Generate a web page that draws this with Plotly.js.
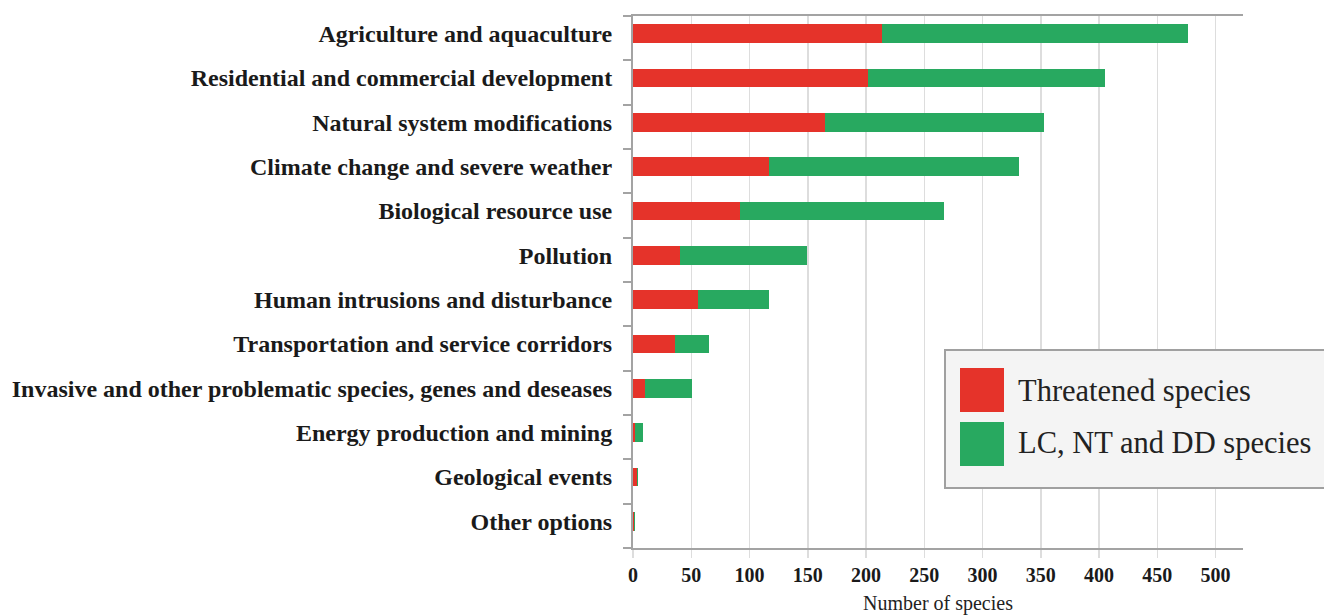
<!DOCTYPE html>
<html>
<head>
<meta charset="utf-8">
<script src="https://cdn.plot.ly/plotly-3.0.1.min.js"></script>
<style>
  html, body { margin: 0; padding: 0; background: #ffffff; }
  #chart { width: 1324px; height: 615px; }
</style>
</head>
<body>
<div id="chart"></div>
<script>
// ---- data ----
const categories = [
  "Agriculture and aquaculture",
  "Residential and commercial development",
  "Natural system modifications",
  "Climate change and severe weather",
  "Biological resource use",
  "Pollution",
  "Human intrusions and disturbance",
  "Transportation and service corridors",
  "Invasive and other problematic species, genes and deseases",
  "Energy production and mining",
  "Geological events",
  "Other options"
];
const threatened = [214, 202, 165, 117, 92, 40, 56, 36, 10, 2, 3, 1];
const lcNtDd     = [262, 203, 188, 214, 175, 109, 61, 29, 41, 7, 1, 1];
const seriesNames = ["Threatened species", "LC, NT and DD species"];
const xTickValues = [0, 50, 100, 150, 200, 250, 300, 350, 400, 450, 500];
const xAxisTitle = "Number of species";

// ---- styles ----
const RED = "rgb(229,51,42)";
const GREEN = "rgb(40,169,96)";
const AXIS = "#a3a3a3";
const GRID = "#dddddd";
const SERIF = "Liberation Serif, Times New Roman, serif";

const W = 1324, H = 615;
const L = 633, R = 1243, T = 16, B = 548;
const px2x = p => (p - L) / (R - L);
const py2y = p => (B - p) / (B - T);

// category range (top boundary slightly above first category)
const yRange = [categories.length - 0.4, -0.4];
// separator ticks between categories (drawn on an overlaying linear axis)
const sepTicks = categories.map((c, i) => i - 0.4).concat([categories.length - 0.4]);

const traces = [
  {
    type: "bar", orientation: "h", name: seriesNames[0],
    y: categories, x: threatened,
    marker: { color: RED, line: { width: 0 } },
    width: 0.42, hoverinfo: "x+y+name"
  },
  {
    type: "bar", orientation: "h", name: seriesNames[1],
    y: categories, x: lcNtDd,
    marker: { color: GREEN, line: { width: 0 } },
    width: 0.42, hoverinfo: "x+y+name"
  },
  {
    // empty helper trace so the separator-tick axis is drawn
    type: "scatter", mode: "markers", x: [null], y: [null],
    yaxis: "y2", showlegend: false, hoverinfo: "skip"
  }
];

const legendShapes = [
  { type: "rect", xref: "paper", yref: "paper", layer: "above",
    x0: px2x(945), x1: px2x(1335), y0: py2y(488), y1: py2y(350),
    fillcolor: "#f4f4f4", line: { color: "#a0a0a0", width: 2 } },
  { type: "rect", xref: "paper", yref: "paper", layer: "above",
    x0: px2x(960), x1: px2x(1004), y0: py2y(412), y1: py2y(368),
    fillcolor: RED, line: { width: 0 } },
  { type: "rect", xref: "paper", yref: "paper", layer: "above",
    x0: px2x(960), x1: px2x(1004), y0: py2y(466), y1: py2y(422),
    fillcolor: GREEN, line: { width: 0 } }
];

const legendTexts = [
  { xref: "paper", yref: "paper", x: px2x(1016), y: py2y(391),
    xanchor: "left", yanchor: "middle", showarrow: false,
    text: seriesNames[0], font: { family: SERIF, size: 30.5, color: "#222" } },
  { xref: "paper", yref: "paper", x: px2x(1016), y: py2y(443),
    xanchor: "left", yanchor: "middle", showarrow: false,
    text: seriesNames[1], font: { family: SERIF, size: 30.5, color: "#222" } }
];

const layout = {
  width: W, height: H,
  margin: { l: L, r: W - R, t: T, b: H - B, pad: 0 },
  paper_bgcolor: "#ffffff", plot_bgcolor: "#ffffff",
  barmode: "stack",
  showlegend: false,
  xaxis: {
    range: [0, 523.6],
    tickvals: xTickValues,
    ticks: "outside", ticklen: 8, tickwidth: 1.5, tickcolor: GRID,
    showgrid: true, gridcolor: GRID, gridwidth: 1.5,
    zeroline: false,
    showline: true, linecolor: AXIS, linewidth: 2, mirror: true,
    tickfont: { family: SERIF, size: 20, color: "#1a1a1a", weight: "bold" },
    ticklabelstandoff: 0,
    title: { text: xAxisTitle, standoff: 12,
             font: { family: SERIF, size: 20, color: "#222" } }
  },
  yaxis: {
    type: "category",
    range: yRange,
    ticks: "",
    showgrid: false, zeroline: false,
    showline: true, linecolor: AXIS, linewidth: 2,
    tickfont: { family: SERIF, size: 24, color: "#1a1a1a", weight: "bold" },
    ticklabelstandoff: 14
  },
  yaxis2: {
    type: "linear",
    overlaying: "y", side: "left", anchor: "x",
    range: yRange,
    tickmode: "array",
    tickvals: sepTicks,
    ticks: "outside", ticklen: 9, tickwidth: 2, tickcolor: AXIS,
    showticklabels: false, showgrid: false, zeroline: false, showline: false
  },
  shapes: legendShapes,
  annotations: legendTexts
};

Plotly.newPlot("chart", traces, layout, { displayModeBar: false, staticPlot: true });
</script>
</body>
</html>
